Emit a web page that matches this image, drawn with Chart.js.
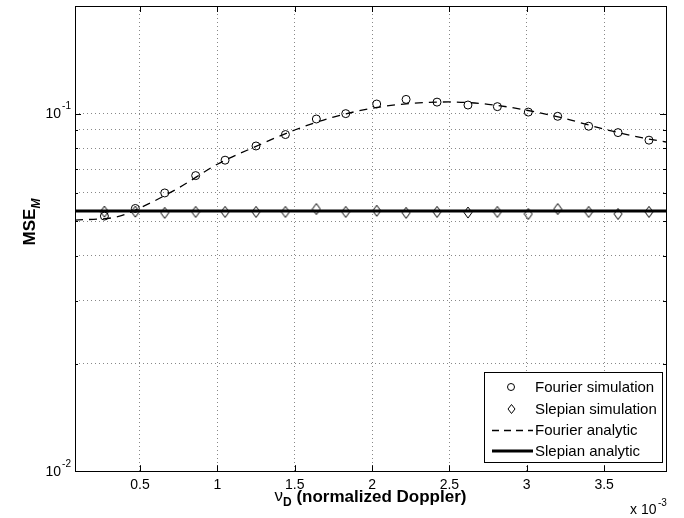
<!DOCTYPE html>
<html>
<head>
<meta charset="utf-8">
<script src="https://cdn.jsdelivr.net/npm/chart.js@4"></script>
<style>
  html, body { margin: 0; padding: 0; background: #fff; }
  #wrap { width: 684px; height: 518px; }
</style>
</head>
<body>
<div id="wrap"><canvas id="mse" width="684" height="518"></canvas></div>
<script>
// normalized Doppler, in units of 1e-3
const nuSim = [0.27, 0.47, 0.66, 0.86, 1.05, 1.25, 1.44, 1.64, 1.83, 2.03,
               2.22, 2.42, 2.62, 2.81, 3.01, 3.20, 3.40, 3.59, 3.79];
const fourierSim = [0.0517, 0.0543, 0.0600, 0.0671, 0.0741, 0.0812, 0.0874, 0.0966, 0.1000, 0.1064,
                    0.1096, 0.1077, 0.1057, 0.1046, 0.1010, 0.0983, 0.0922, 0.0885, 0.0843];
const slepianSim = [0.0532, 0.0532, 0.0528, 0.0531, 0.0531, 0.0531, 0.0531, 0.0541, 0.0531, 0.0535,
                    0.0528, 0.0531, 0.0529, 0.0531, 0.0524, 0.0541, 0.0531, 0.0524, 0.0531];

const nuCurve = [0.08, 0.35, 0.5, 0.75, 1.0, 1.25, 1.5, 1.75, 2.0, 2.25, 2.5, 2.75, 3.0, 3.25, 3.5, 3.75, 3.9];
const fourierAna = [0.0504, 0.0514, 0.0545, 0.0620, 0.0722, 0.0810, 0.0900, 0.0978, 0.1035, 0.1068,
                    0.1078, 0.1062, 0.1022, 0.0968, 0.0905, 0.0855, 0.0833];
const nuFlat = [0.08, 3.9];
const slepianAna = [0.0534, 0.0534];

const xTicks = [0.5, 1, 1.5, 2, 2.5, 3, 3.5];
const yGrid = [0.01, 0.02, 0.03, 0.04, 0.05, 0.06, 0.07, 0.08, 0.09, 0.1, 0.2];
const yMajor = [[0.01, '-2'], [0.1, '-1']];

const legendNames = ['Fourier simulation', 'Slepian simulation', 'Fourier analytic', 'Slepian analytic'];

const FONT = '"Liberation Sans", Arial, Helvetica, sans-serif';

const pts = (xs, ys) => xs.map((v, i) => ({x: v, y: ys[i]}));

function line(ctx, x1, y1, x2, y2) {
    ctx.beginPath();
    ctx.moveTo(x1, y1);
    ctx.lineTo(x2, y2);
    ctx.stroke();
}

function diamond(ctx, cx, cy, w, h) {
    ctx.beginPath();
    ctx.moveTo(cx, cy - h);
    ctx.lineTo(cx + w, cy);
    ctx.lineTo(cx, cy + h);
    ctx.lineTo(cx - w, cy);
    ctx.closePath();
    ctx.stroke();
}

const overlay = {
    id: 'overlay',
    afterDraw(chart) {
        const {ctx, chartArea: a, scales: {x, y}} = chart;
        ctx.save();
        ctx.strokeStyle = '#000';
        ctx.fillStyle = '#000';
        ctx.lineWidth = 1;

        // axes box
        ctx.strokeRect(Math.round(a.left) + 0.5, Math.round(a.top) + 0.5,
                       Math.round(a.right - a.left), Math.round(a.bottom - a.top));

        // tick marks, pointing inwards
        xTicks.forEach(v => {
            const px = Math.round(x.getPixelForValue(v)) + 0.5;
            line(ctx, px, a.bottom, px, a.bottom - 6);
            line(ctx, px, a.top, px, a.top + 6);
        });
        yGrid.forEach(v => {
            const py = Math.round(y.getPixelForValue(v)) + 0.5;
            const len = (v === 0.01 || v === 0.1) ? 6 : 3;
            line(ctx, a.left, py, a.left + len, py);
            line(ctx, a.right, py, a.right - len, py);
        });

        // y tick labels 10^n
        yMajor.forEach(([v, ex]) => {
            const py = y.getPixelForValue(v);
            ctx.textAlign = 'right';
            ctx.textBaseline = 'middle';
            ctx.font = '10px ' + FONT;
            const ew = ctx.measureText(ex).width;
            ctx.fillText(ex, a.left - 4, py - 7);
            ctx.font = '14px ' + FONT;
            ctx.fillText('10', a.left - 5 - ew, py + 1);
        });

        // x exponent
        ctx.textAlign = 'left';
        ctx.textBaseline = 'middle';
        ctx.font = '14px ' + FONT;
        ctx.fillText('x 10', 630, 510);
        ctx.font = '10px ' + FONT;
        ctx.fillText('-3', 658, 503);

        // x axis title
        const t1 = '\u03bd';
        const t2 = ' (normalized Doppler)';
        ctx.font = '17px ' + FONT;
        const w1 = ctx.measureText(t1).width;
        ctx.font = 'bold 12px ' + FONT;
        const wd = ctx.measureText('D').width;
        ctx.font = 'bold 17px ' + FONT;
        const w2 = ctx.measureText(t2).width;
        const sx = (a.left + a.right) / 2 - (w1 + wd + w2) / 2;
        ctx.font = '17px ' + FONT;
        ctx.fillText(t1, sx, 496);
        ctx.font = 'bold 12px ' + FONT;
        ctx.fillText('D', sx + w1, 503);
        ctx.font = 'bold 17px ' + FONT;
        ctx.fillText(t2, sx + w1 + wd, 497);

        // y axis title
        ctx.save();
        ctx.translate(30, 222);
        ctx.rotate(-Math.PI / 2);
        ctx.font = 'bold 17px ' + FONT;
        const wm = ctx.measureText('MSE').width;
        ctx.font = 'italic bold 12px ' + FONT;
        const ws = ctx.measureText('M').width;
        const yx = -(wm + ws) / 2;
        ctx.font = 'bold 17px ' + FONT;
        ctx.fillText('MSE', yx, 0);
        ctx.font = 'italic bold 12px ' + FONT;
        ctx.fillText('M', yx + wm, 7);
        ctx.restore();

        // legend
        const lx = 484, ly = 372, lw = 178, lh = 90;
        ctx.fillStyle = '#fff';
        ctx.fillRect(lx, ly, lw, lh);
        ctx.strokeStyle = '#000';
        ctx.lineWidth = 1;
        ctx.strokeRect(lx + 0.5, ly + 0.5, lw, lh);
        const rows = [387, 409, 430, 451];
        ctx.fillStyle = '#000';
        ctx.font = '15px ' + FONT;
        ctx.textAlign = 'left';
        ctx.textBaseline = 'middle';
        legendNames.forEach((n, i) => ctx.fillText(n, 535, rows[i] + 1));
        ctx.lineWidth = 1;
        ctx.beginPath();
        ctx.arc(511, rows[0], 3.5, 0, Math.PI * 2);
        ctx.stroke();
        diamond(ctx, 511.5, rows[1], 3.5, 4.5);
        ctx.lineWidth = 1.3;
        ctx.setLineDash([7, 5]);
        line(ctx, 492, rows[2] + 0.5, 533, rows[2] + 0.5);
        ctx.setLineDash([]);
        ctx.lineWidth = 3;
        line(ctx, 492, rows[3], 533, rows[3]);

        ctx.restore();
    }
};

// diamond marker drawn as a canvas element (taller than wide, like MATLAB)
const diamondImg = document.createElement('canvas');
diamondImg.width = 10; diamondImg.height = 13;
(() => {
    const c = diamondImg.getContext('2d');
    c.strokeStyle = '#000';
    c.lineWidth = 1;
    diamond(c, 5, 6.5, 4, 5.5);
})();

new Chart(document.getElementById('mse'), {
    type: 'scatter',
    data: {
        datasets: [
            {
                label: legendNames[3],
                data: pts(nuFlat, slepianAna),
                showLine: true,
                borderColor: '#000',
                borderWidth: 3,
                pointRadius: 0,
                order: 0
            },
            {
                label: legendNames[2],
                data: pts(nuCurve, fourierAna),
                showLine: true,
                borderColor: '#000',
                borderWidth: 1.3,
                borderDash: [8, 6],
                cubicInterpolationMode: 'monotone',
                pointRadius: 0,
                order: 1
            },
            {
                label: legendNames[1],
                data: pts(nuSim, slepianSim),
                pointStyle: diamondImg,
                order: 2
            },
            {
                label: legendNames[0],
                data: pts(nuSim, fourierSim),
                pointStyle: 'circle',
                pointRadius: 4,
                borderColor: '#000',
                borderWidth: 1,
                backgroundColor: 'rgba(0,0,0,0)',
                order: 3
            }
        ]
    },
    options: {
        responsive: false,
        animation: false,
        layout: {padding: {left: 75, right: 18, top: 6, bottom: 18}},
        plugins: {legend: {display: false}, tooltip: {enabled: false}},
        scales: {
            x: {
                type: 'linear',
                min: 0.08,
                max: 3.9,
                afterBuildTicks: s => { s.ticks = xTicks.map(v => ({value: v})); },
                grid: {color: '#888', drawTicks: false, lineWidth: 1},
                border: {display: false, dash: [1, 3]},
                ticks: {
                    color: '#000',
                    padding: 6,
                    font: {family: FONT, size: 14},
                    callback: v => String(v)
                }
            },
            y: {
                type: 'logarithmic',
                min: 0.01,
                max: 0.2,
                afterBuildTicks: s => { s.ticks = yGrid.map(v => ({value: v})); },
                grid: {color: '#888', drawTicks: false, lineWidth: 1},
                border: {display: false, dash: [1, 3]},
                ticks: {display: false}
            }
        }
    },
    plugins: [overlay]
});
</script>
</body>
</html>
